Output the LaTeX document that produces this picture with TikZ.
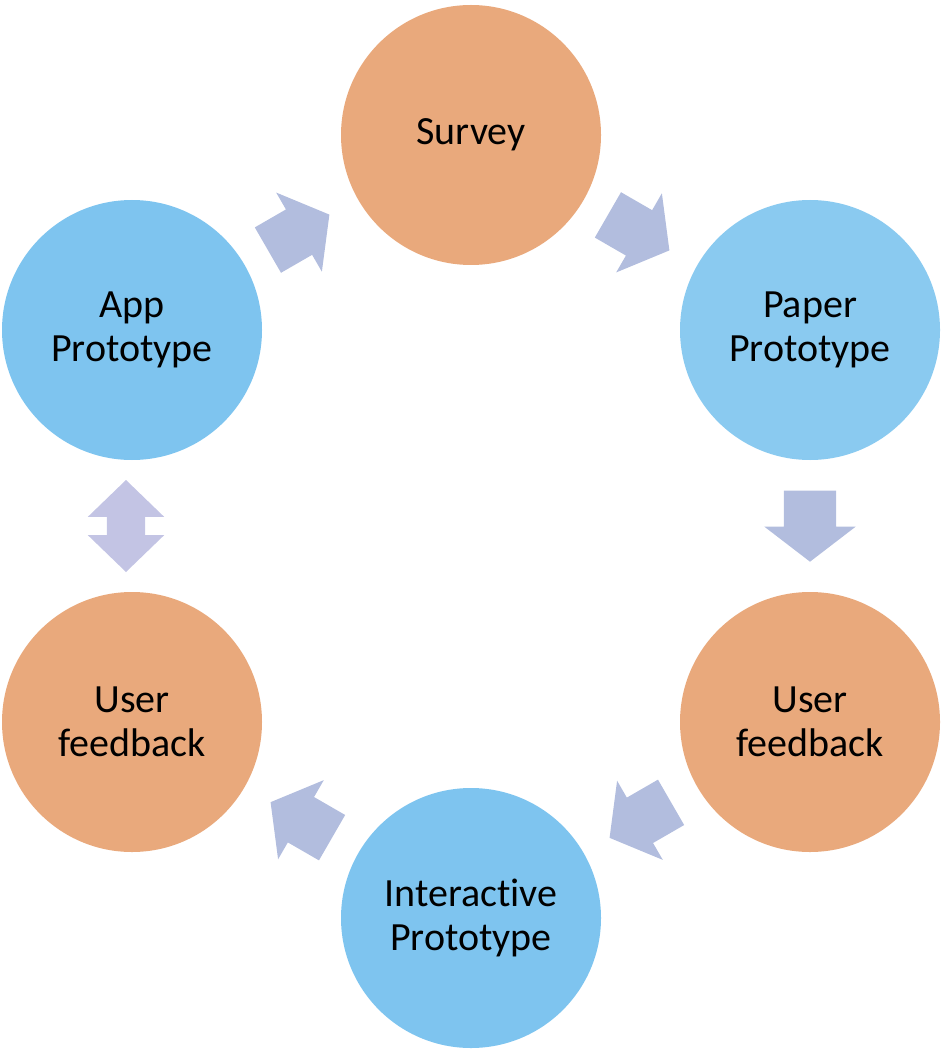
\documentclass[tikz,border=0pt]{standalone}
\usepackage{fontspec}
\setmainfont[Ligatures=NoCommon]{Carlito}
\usetikzlibrary{shapes.arrows, calc}
\definecolor{peach}{HTML}{E9A97C}
\definecolor{sky}{HTML}{7EC4EF}
\definecolor{skylight}{HTML}{8ACAF0}
\definecolor{lilac}{HTML}{B2BDDE}
\definecolor{lilaclight}{HTML}{C3C4E4}

\begin{document}
\begin{tikzpicture}[x=1pt, y=-1pt,
    stage/.style = {circle, minimum size=260pt, inner sep=0pt, align=center,
        font=\fontsize{40}{44}\selectfont},
    flow/.style = {single arrow, fill=lilac, minimum height=71pt, inner xsep=0pt,
        inner ysep=26pt, text height=0pt, text depth=0pt, anchor=tail,
        single arrow head extend=19.5pt, single arrow tip angle=105},
    both/.style = {double arrow, fill=lilaclight, minimum height=92pt, inner xsep=0pt,
        inner ysep=19pt, text height=0pt, text depth=0pt,
        double arrow head extend=19pt, double arrow tip angle=92}]
    \useasboundingbox (0,0) rectangle (946,1056);

    \node[stage, fill=peach] (survey) at (471,135) {Survey};
    \node[stage, fill=skylight] (paper) at (810,330) {Paper\\Prototype};
    \node[stage, fill=peach] (feedright) at (810,722) {User\\feedback};
    \node[stage, fill=sky] (interactive) at (471,918) {Interactive\\Prototype};
    \node[stage, fill=peach] (feedleft) at (132,722) {User\\feedback};
    \node[stage, fill=sky] (app) at (132,330) {App\\Prototype};

    % arrows between the stages, tail placed half a length before the midpoint
    \node[flow, rotate=-30] (a1) at ($(survey)!0.5!(paper)!35.5pt!(survey)+(-2,0)$) {};
    \node[flow, rotate=-90] (a2) at ($(paper)!0.5!(feedright)!35.5pt!(paper)$) {};
    \node[flow, rotate=-150] (a3) at ($(feedright)!0.5!(interactive)!35.5pt!(feedright)$) {};
    \node[flow, rotate=150] (a4) at ($(interactive)!0.5!(feedleft)!35.5pt!(interactive)$) {};
    \node[both, rotate=90] (a5) at ($(feedleft)!0.5!(app)+(-6,0)$) {};
    \node[flow, rotate=30] (a6) at ($(app)!0.5!(survey)!35.5pt!(app)+(-3,0)$) {};
\end{tikzpicture}
\end{document}
